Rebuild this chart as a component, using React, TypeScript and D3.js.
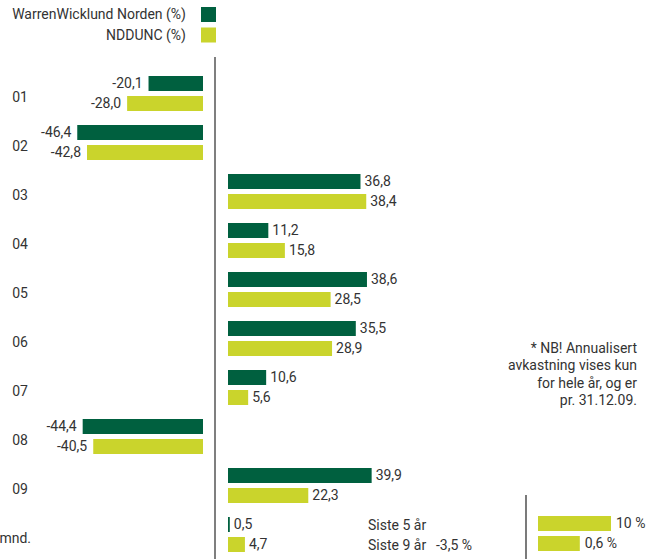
import React from "react";
import * as d3 from "d3";

const categories = ["01", "02", "03", "04", "05", "06", "07", "08", "09", "mnd."];
const warrenValues = [-20.1, -46.4, 36.8, 11.2, 38.6, 35.5, 10.6, -44.4, 39.9, 0.5];
const ndduncValues = [-28.0, -42.8, 38.4, 15.8, 28.5, 28.9, 5.6, -40.5, 22.3, 4.7];
const seriesNames = ["WarrenWicklund Norden (%)", "NDDUNC (%)"];
const annualLabels = ["Siste 5 år", "Siste 9 år"];
const annualWarrenText = ["", "-3,5 %"];
const annualNdduncValues = [10, 0.6];
const noteLines = ["* NB! Annualisert", "avkastning vises kun", "for hele år, og er", "pr. 31.12.09."];

const GREEN = "#00603f";
const YELLOW = "#cad42c";
const TEXT = "#333333";
const FONT = "Roboto, 'DejaVu Sans', sans-serif";
const FS = 14;

const loc = d3.formatLocale({ decimal: ",", thousands: " ", grouping: [3], currency: ["", ""], minus: "-" });
const fmt = loc.format(".1f");

const T = (props: any) => (
  <text fontSize={FS} fontFamily={FONT} fill={TEXT} dy="0.35em" {...props} />
);

export default function App() {
  const W = 658, H = 559;
  const y = d3.scaleBand<string>().domain(categories).range([76, 76 + 49 * categories.length]).paddingInner(0);
  const ySub = d3.scaleBand<string>().domain(["w", "n"]).range([0, 35]).paddingInner(0.25);
  const xNeg = d3.scaleLinear().domain([-50, 0]).range([203 - 135.5, 203]);
  const xPos = d3.scaleLinear().domain([0, 50]).range([228, 228 + 180]);
  const xAnnual = d3.scaleLinear().domain([-12, 10]).range([538, 611]);
  const colors = [GREEN, YELLOW];
  const series = [warrenValues, ndduncValues];
  const keys = ["w", "n"];
  const lastRowY = y(categories[categories.length - 1]) as number;

  return (
    <svg width={W} height={H} style={{ position: "absolute", left: 0, top: 0, background: "#fff" }}>
      {/* legend */}
      {seriesNames.map((n, i) => (
        <g key={n}>
          <T x={186} y={14 + i * 21} textAnchor="end">{n}</T>
          <rect x={201} y={7 + i * 20.5} width={15} height={15} fill={colors[i]} />
        </g>
      ))}

      {/* category labels */}
      {categories.map((c, i) => (
        <T key={c} x={i === categories.length - 1 ? 31 : 28} y={(y(c) as number) + 21} textAnchor="end">{c}</T>
      ))}

      {/* bars */}
      {categories.map((c, ci) => (
        <g key={c}>
          {series.map((vals, si) => {
            const v = vals[ci];
            const top = (y(c) as number) + (ySub(keys[si]) as number);
            const h = ySub.bandwidth();
            const neg = v < 0;
            const x0 = neg ? xNeg(v) : xPos(0);
            const x1 = neg ? xNeg(0) : xPos(v);
            return (
              <g key={si}>
                <rect x={x0} y={top} width={Math.max(1.5, x1 - x0)} height={h} fill={colors[si]} />
                <T
                  x={neg ? x0 - 6 : Math.max(x1, x0 + 1.5) + 4}
                  y={top + h / 2}
                  textAnchor={neg ? "end" : "start"}
                >
                  {fmt(v)}
                </T>
              </g>
            );
          })}
        </g>
      ))}

      {/* axis line */}
      <line x1={215} x2={215} y1={57} y2={H} stroke="#555" strokeWidth={1.5} />

      {/* annualized section */}
      <line x1={526} x2={526} y1={495} y2={H} stroke="#222" strokeWidth={1.2} />
      {annualLabels.map((l, i) => {
        const top = lastRowY + (ySub(keys[i]) as number);
        const h = ySub.bandwidth();
        return (
          <g key={l}>
            <T x={368} y={top + h / 2 + 1}>{l}</T>
            {annualWarrenText[i] && <T x={436} y={top + h / 2 + 1}>{annualWarrenText[i]}</T>}
            <rect x={xAnnual.range()[0]} y={top - 1} width={xAnnual(annualNdduncValues[i]) - xAnnual.range()[0]} height={h} fill={YELLOW} />
            <T x={xAnnual(annualNdduncValues[i]) + 5} y={top + h / 2 - 1}>
              {loc.format(annualNdduncValues[i] % 1 === 0 ? ".0f" : ".1f")(annualNdduncValues[i]) + " %"}
            </T>
          </g>
        );
      })}

      {/* note */}
      {noteLines.map((l, i) => (
        <T key={l} x={637} y={348 + i * 17.5} textAnchor="end">{l}</T>
      ))}
    </svg>
  );
}
